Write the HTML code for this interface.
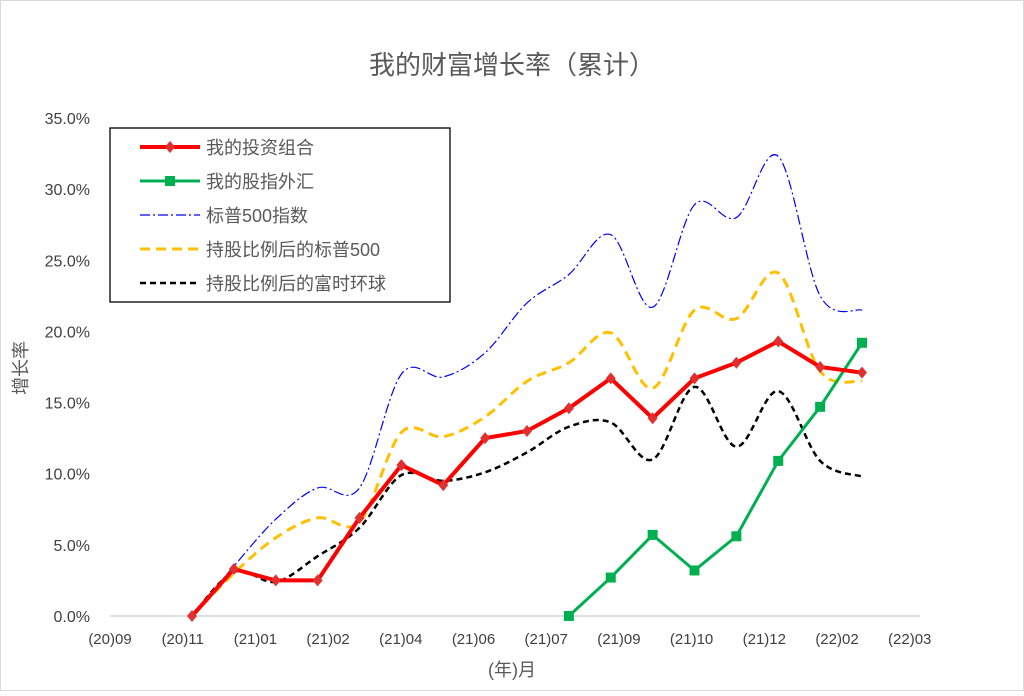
<!DOCTYPE html>
<html><head><meta charset="utf-8"><style>
body{margin:0;background:#fff}
svg text{font-family:"Liberation Sans","Noto Sans CJK SC",sans-serif;fill:#595959}
</style></head><body>
<svg width="1024" height="691" viewBox="0 0 1024 691">
<rect x="0.5" y="0.5" width="1023" height="690" fill="#fff" stroke="#d9d9d9"/>
<text x="512" y="74" text-anchor="middle" font-size="26">我的财富增长率（累计）</text>
<g id="grid"></g><g id="axes"></g><g id="series"></g>
<text x="512" y="676" text-anchor="middle" font-size="18">(年)月</text>
<text transform="translate(27,368) rotate(-90)" text-anchor="middle" font-size="18">增长率</text>
<g id="legend"></g>
</svg>
<script>
const yTicks=[0,5,10,15,20,25,30,35];
const xLabels=["(20)09","(20)11","(21)01","(21)02","(21)04","(21)06","(21)07","(21)09","(21)10","(21)12","(22)02","(22)03"];
const portfolio=[0,3.3,2.5,2.5,6.9,10.6,9.2,12.5,13.0,14.6,16.7,13.9,16.7,17.8,19.3,17.5,17.1];
const fxIndex=[null,null,null,null,null,null,null,null,null,0,2.7,5.7,3.2,5.6,10.9,14.7,19.2];
const sp500=[0,3.5,6.8,9.0,9.0,17.0,16.8,18.5,22.0,24.0,26.8,21.7,28.9,28.0,32.3,22.5,21.5];
const spWeighted=[0,3.0,5.5,6.9,6.6,12.9,12.6,14.0,16.5,17.8,19.9,16.0,21.5,20.9,24.1,17.2,16.5];
const ftseWeighted=[0,3.1,2.4,4.2,6.2,9.9,9.5,10.1,11.5,13.3,13.6,11.0,16.1,11.9,15.8,10.9,9.8];
const NS="http://www.w3.org/2000/svg";
const X0=192,DX=41.875,Y0=616,YPX=14.23;
const xs=i=>X0+i*DX, ys=v=>Y0-v*YPX;
function mk(tag,attrs,parent){const e=document.createElementNS(NS,tag);for(const k in attrs)e.setAttribute(k,attrs[k]);document.getElementById(parent).appendChild(e);return e;}
yTicks.forEach(t=>{
 const l=mk('line',{x1:110,x2:920,y1:ys(t),y2:ys(t),stroke:t===0?'#bfbfbf':'none'},'grid');
 
 
 const tx=mk('text',{x:90,y:ys(t)+6,'text-anchor':'end','font-size':16,style:'fill:#404040'},'axes');tx.textContent=t.toFixed(1)+'%';
 
 
});
xLabels.forEach((s,i)=>{
 const tx=mk('text',{x:110+i*72.7,y:644,'text-anchor':'middle','font-size':15,style:'fill:#404040'},'axes');tx.textContent=s;
 
 
});
function pts(arr){const p=[];arr.forEach((v,i)=>{if(v!==null)p.push([xs(i),ys(v)]);});return p;}
function straight(p){return p.map((q,i)=>(i?'L':'M')+q[0]+','+q[1]).join('');}
function smooth(p){let d='M'+p[0][0]+','+p[0][1];for(let i=0;i<p.length-1;i++){const a=p[Math.max(i-1,0)],b=p[i],c=p[i+1],e=p[Math.min(i+2,p.length-1)];
 d+='C'+(b[0]+(c[0]-a[0])/6)+','+(b[1]+(c[1]-a[1])/6)+' '+(c[0]-(e[0]-b[0])/6)+','+(c[1]-(e[1]-b[1])/6)+' '+c[0]+','+c[1];}return d;}
let p;
p=mk('path',{d:smooth(pts(sp500)),fill:'none',stroke:'#0000ff','stroke-width':1.2,'stroke-dasharray':'10 3 2 3'},'series');


p=mk('path',{d:smooth(pts(spWeighted)),fill:'none',stroke:'#ffc000','stroke-width':3,'stroke-dasharray':'10 6'},'series');


p=mk('path',{d:smooth(pts(ftseWeighted)),fill:'none',stroke:'#000','stroke-width':2.5,'stroke-dasharray':'6 4'},'series');


p=mk('path',{d:straight(pts(fxIndex)),fill:'none',stroke:'#00b050','stroke-width':3},'series');


pts(fxIndex).forEach(q=>{const m=mk('rect',{x:q[0]-5,y:q[1]-5,width:10,height:10,fill:'#00b050'},'series');
 
 });
p=mk('path',{d:straight(pts(portfolio)),fill:'none',stroke:'#ff0000','stroke-width':4},'series');


pts(portfolio).forEach(q=>{const m=mk('path',{d:`M${q[0]},${q[1]-6}L${q[0]+5},${q[1]}L${q[0]},${q[1]+6}L${q[0]-5},${q[1]}Z`,fill:'#e03030'},'series');
 
 });
const lb=mk('rect',{x:110,y:128,width:340,height:174,fill:'#fff',stroke:'#000','stroke-width':1.3},'legend');


const leg=[["我的投资组合",'#ff0000',4,'none','diamond'],["我的股指外汇",'#00b050',3,'none','square'],["标普500指数",'#0000ff',1.2,'10 3 2 3',''],["持股比例后的标普500",'#ffc000',3,'10 6',''],["持股比例后的富时环球",'#000',2.5,'6 4','']];
leg.forEach((L,i)=>{const y=147+i*34;
 const l=mk('line',{x1:140,x2:200,y1:y,y2:y,stroke:L[1],'stroke-width':L[2],'stroke-dasharray':L[3]},'legend');
 
 
 if(L[4]==='diamond')mk('path',{d:`M170,${y-6}L175,${y}L170,${y+6}L165,${y}Z`,fill:'#e03030'},'legend');
 if(L[4]==='square')mk('rect',{x:165,y:y-5,width:10,height:10,fill:'#00b050'},'legend');
 const t=mk('text',{x:206,y:y+7,'font-size':18},'legend');t.textContent=L[0];
 
 
});
</script>
</body></html>
